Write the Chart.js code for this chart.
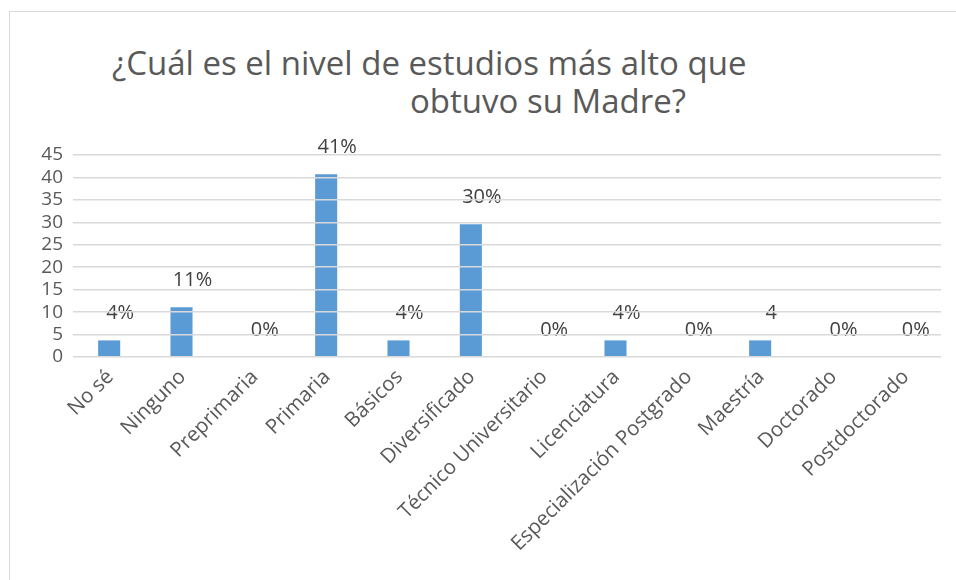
<!DOCTYPE html>
<html lang="es">
<head>
    <meta charset="UTF-8" />
    <title>Nivel de estudios de la madre</title>
    <script src="https://cdn.jsdelivr.net/npm/chart.js"></script>
    <style>
        html, body {
            margin: 0;
            padding: 0;
            width: 956px;
            height: 580px;
            background: #ffffff;
            overflow: hidden;
            font-family: 'Open Sans', sans-serif;
        }
        .frame {
            position: absolute;
            left: 9px;
            top: 11px;
            right: 0;
            bottom: 0;
            border-top: 1.5px solid #d9d9d9;
            border-left: 1.5px solid #d9d9d9;
        }
        .title {
            position: absolute;
            color: #595959;
            font-size: 33px;
            line-height: 38px;
            white-space: nowrap;
        }
        .chart-box {
            position: absolute;
            left: 0;
            top: 0;
            width: 956px;
            height: 580px;
        }
    </style>
</head>
<body>
    <div class="frame"></div>
    <div class="title" style="left:112px; top:44px;">¿Cuál es el nivel de estudios más alto que</div>
    <div class="title" style="left:410px; top:82px;">obtuvo su Madre?</div>
    <div class="chart-box"><canvas id="chart"></canvas></div>
    <script>
        const categories = ['No sé', 'Ninguno', 'Preprimaria', 'Primaria', 'Básicos', 'Diversificado',
            'Técnico Universitario', 'Licenciatura', 'Especialización Postgrado', 'Maestría', 'Doctorado', 'Postdoctorado'];
        const values = [3.7, 11.1, 0, 40.7, 3.7, 29.6, 0, 3.7, 0, 3.7, 0, 0];
        const valueLabels = ['4%', '11%', '0%', '41%', '4%', '30%', '0%', '4%', '0%', '4', '0%', '0%'];
        const yTicks = [0, 5, 10, 15, 20, 25, 30, 35, 40, 45];

        // labels sit a bit above and to the right of each bar, like the original
        const barLabels = {
            id: 'barLabels',
            afterDatasetsDraw(chart) {
                const ctx = chart.ctx;
                const meta = chart.getDatasetMeta(0);
                ctx.save();
                ctx.font = '20px "Open Sans"';
                ctx.fillStyle = '#404040';
                ctx.textAlign = 'center';
                ctx.textBaseline = 'middle';
                meta.data.forEach((bar, i) => {
                    ctx.fillText(valueLabels[i], bar.x + 11, bar.y - 27);
                });
                ctx.restore();
            }
        };

        new Chart(document.getElementById('chart'), {
            type: 'bar',
            data: {
                labels: categories,
                datasets: [{
                    data: values,
                    backgroundColor: '#5b9bd5',
                    barPercentage: 0.305,
                    categoryPercentage: 1
                }]
            },
            options: {
                responsive: true,
                maintainAspectRatio: false,
                animation: false,
                layout: { padding: { top: 155, right: 15, left: 0, bottom: 0 } },
                plugins: {
                    legend: { display: false },
                    tooltip: { enabled: false },
                    title: { display: false }
                },
                scales: {
                    x: {
                        grid: { display: false },
                        border: { display: false },
                        ticks: {
                            color: '#595959',
                            font: { family: 'Open Sans', size: 20.5 },
                            maxRotation: 45,
                            minRotation: 45,
                            autoSkip: false,
                            padding: 0,
                            labelOffset: 1
                        },
                        afterFit(scale) { scale.height = 223; }
                    },
                    y: {
                        min: 0,
                        max: 45,
                        afterBuildTicks(scale) { scale.ticks = yTicks.map(v => ({ value: v })); },
                        grid: { color: '#d9d9d9', lineWidth: 1.5, drawTicks: false, z: 1 },
                        border: { display: false },
                        ticks: {
                            color: '#595959',
                            font: { family: 'Open Sans', size: 19 },
                            padding: 10,
                            autoSkip: false
                        },
                        afterFit(scale) { scale.width = 73; }
                    }
                }
            },
            plugins: [barLabels]
        });
    </script>
</body>
</html>
